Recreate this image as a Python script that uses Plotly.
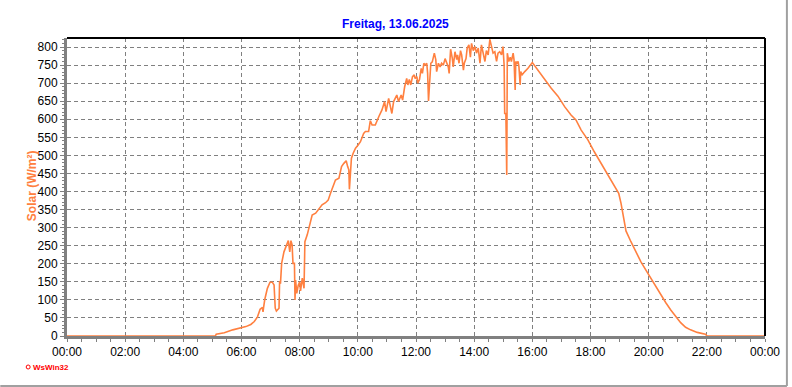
import plotly.graph_objects as go

# time in decimal hours, solar radiation in W/m²
hours = [0.00, 5.10, 5.13, 5.41, 5.70, 6.00, 6.15, 6.32, 6.44, 6.55, 6.64, 6.72, 6.74, 6.76, 6.80, 6.89, 6.98, 7.06,
         7.12, 7.16, 7.20, 7.29, 7.31, 7.34, 7.38, 7.46, 7.54, 7.61, 7.66, 7.70, 7.74, 7.77, 7.82, 7.84, 7.86, 7.90,
         7.95, 8.00, 8.03, 8.09, 8.15, 8.18, 8.26, 8.34, 8.43, 8.55, 8.70, 8.77, 8.89, 8.98, 9.06, 9.12, 9.23, 9.35,
         9.44, 9.52, 9.60, 9.65, 9.69, 9.71, 9.75, 9.78, 9.84, 9.92, 10.01, 10.09, 10.20, 10.26, 10.37, 10.43, 10.49,
         10.60, 10.72, 10.83, 10.92, 10.97, 11.06, 11.17, 11.23, 11.34, 11.40, 11.49, 11.54, 11.61, 11.68, 11.72,
         11.77, 11.82, 11.88, 11.94, 11.97, 12.03, 12.06, 12.12, 12.18, 12.22, 12.27, 12.31, 12.37, 12.40, 12.43,
         12.46, 12.51, 12.56, 12.63, 12.68, 12.71, 12.77, 12.83, 12.88, 12.94, 13.00, 13.05, 13.11, 13.14, 13.19,
         13.25, 13.28, 13.34, 13.40, 13.43, 13.48, 13.53, 13.57, 13.63, 13.66, 13.72, 13.76, 13.82, 13.87, 13.91,
         13.97, 14.03, 14.08, 14.14, 14.20, 14.25, 14.31, 14.37, 14.42, 14.48, 14.54, 14.59, 14.65, 14.71, 14.77,
         14.82, 14.88, 14.94, 14.99, 15.03, 15.05, 15.09, 15.11, 15.12, 15.14, 15.19, 15.24, 15.28, 15.34, 15.37,
         15.41, 15.43, 15.47, 15.51, 15.54, 15.58, 15.60, 15.65, 15.74, 15.85, 16.00, 16.19, 16.42, 16.65, 16.88,
         17.11, 17.33, 17.50, 17.68, 17.91, 18.13, 18.36, 18.59, 18.82, 18.97, 19.05, 19.14, 19.22, 19.39, 19.56,
         19.73, 19.90, 20.07, 20.24, 20.41, 20.59, 20.76, 20.93, 21.10, 21.27, 21.44, 21.67, 21.95, 22.01, 24.00]
solar = [0, 0, 5, 9, 17, 23, 26, 32, 40, 53, 74, 79, 67, 79, 101, 132, 149, 149,
         141, 77, 69, 77, 152, 145, 201, 233, 252, 264, 233, 264, 252, 201, 201, 100, 155, 118,
         140, 150, 125, 160, 132, 261, 280, 307, 335, 340, 356, 363, 369, 376, 395, 409, 432, 437,
         469, 478, 485, 469, 460, 406, 450, 492, 506, 520, 529, 538, 561, 566, 566, 596, 584,
         584, 607, 626, 649, 621, 658, 616, 649, 667, 649, 667, 653, 690, 713, 695,
         710, 695, 718, 723, 713, 718, 700, 710, 741, 727, 755, 750, 755, 727, 651,
         690, 755, 759, 783, 765, 732, 755, 745, 755, 750, 768, 759, 745, 727, 794,
         768, 745, 787, 765, 778, 755, 790, 778, 736, 755, 768, 797, 806, 772, 810,
         790, 801, 783, 797, 755, 806, 778, 760, 790, 778, 821, 806, 783, 787, 760,
         783, 787, 778, 801, 750, 616, 616, 446, 446, 783, 760, 772, 760, 783, 765,
         681, 760, 755, 760, 745, 695, 732, 723, 732, 741, 757, 736, 709, 686, 664,
         635, 612, 598, 570, 543, 510, 478, 450, 418, 395, 367, 330, 291, 261, 233,
         206, 183, 160, 137, 114, 92, 72, 53, 37, 24, 17, 10, 5, 0, 0]

x_ticks = [0, 2, 4, 6, 8, 10, 12, 14, 16, 18, 20, 22, 24]
x_labels = ["00:00", "02:00", "04:00", "06:00", "08:00", "10:00", "12:00",
            "14:00", "16:00", "18:00", "20:00", "22:00", "00:00"]
y_ticks = list(range(0, 801, 50))

title_text = "Freitag, 13.06.2025"
y_title = "Solar (W/m²)"
credit = "WsWin32"

W, H = 792, 387
L, R, T, B = 67, 24, 38, 51
pw, ph = W - L - R, H - T - B

def px(x):
    return (x - L) / pw

def py(y):
    return (H - B - y) / ph

font = "Arial, Liberation Sans, sans-serif"
orange = "#FF8040"

fig = go.Figure()
fig.add_trace(go.Scatter(x=hours, y=solar, mode="lines",
                         line=dict(color=orange, width=1.6), hoverinfo="skip"))

fig.update_layout(
    width=W, height=H, margin=dict(l=L, r=R, t=T, b=B),
    paper_bgcolor="white", plot_bgcolor="white", showlegend=False,
    font=dict(family=font, size=12, color="black"),
    xaxis=dict(range=[0, 24], tickvals=x_ticks, ticktext=x_labels,
               showgrid=True, gridcolor="#808080", griddash="4px,3px", gridwidth=1,
               zeroline=False, showline=True, linecolor="#808080", linewidth=3,
               ticks="outside", ticklen=3, tickcolor="#808080", tickwidth=1,
               minor=dict(dtick=0.5, tick0=0, ticks="outside", ticklen=3,
                          tickcolor="#808080", showgrid=False),
               tickfont=dict(size=12, family=font, color="black")),
    yaxis=dict(range=[0, 825], tickvals=y_ticks,
               showgrid=True, gridcolor="#808080", griddash="4px,3px", gridwidth=1,
               zeroline=False, showline=True, linecolor="#808080", linewidth=3,
               ticks="outside", ticklen=4, tickcolor="#808080", tickwidth=1,
               minor=dict(dtick=10, tick0=0, ticks="outside", ticklen=2,
                          tickcolor="#808080", showgrid=False),
               tickfont=dict(size=12, family=font, color="black")),
)

# top and right black frame of plot area
fig.add_shape(type="line", xref="paper", yref="paper", x0=0, x1=1, y0=1, y1=1,
              line=dict(color="black", width=2))
fig.add_shape(type="line", xref="paper", yref="paper", x0=1, x1=1, y0=0, y1=1,
              line=dict(color="black", width=2))
# outer window frame (right and bottom gray)
fig.add_shape(type="line", xref="paper", yref="paper", x0=px(790), x1=px(790), y0=py(0), y1=py(386),
              line=dict(color="#A0A0A0", width=2))
fig.add_shape(type="line", xref="paper", yref="paper", x0=px(0), x1=px(790), y0=py(386), y1=py(386),
              line=dict(color="#A0A0A0", width=2))

fig.add_annotation(text="<b>" + title_text + "</b>", xref="paper", yref="paper",
                   x=px(397), y=py(24), showarrow=False, xanchor="center", yanchor="middle",
                   font=dict(family=font, size=12, color="#0000FF"))
fig.add_annotation(text="<b>" + y_title + "</b>", xref="paper", yref="paper",
                   x=px(32), y=py(186), showarrow=False, textangle=-90,
                   xanchor="center", yanchor="middle",
                   font=dict(family=font, size=12, color=orange))
fig.add_annotation(text="<b>" + credit + "</b>", xref="paper", yref="paper",
                   x=px(31), y=py(367), showarrow=False, xanchor="left", yanchor="middle",
                   font=dict(family=font, size=8, color="#FF0000"))
fig.add_shape(type="circle", xref="paper", yref="paper",
              x0=px(26), x1=px(30), y0=py(365), y1=py(369),
              line=dict(color="#FF0000", width=1), fillcolor="white")

fig.write_html("out.html")
